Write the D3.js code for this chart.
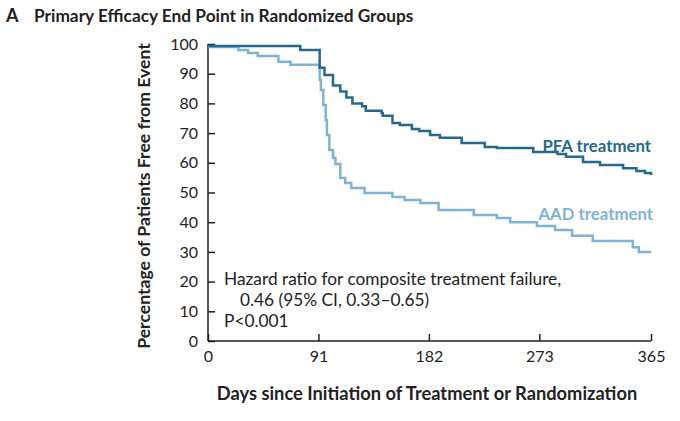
<!DOCTYPE html>
<html><head><meta charset="utf-8">
<script src="https://cdn.jsdelivr.net/npm/d3@7"></script>
<style>body{margin:0;background:#fff;} text{font-family:Lato,"Open Sans",sans-serif;}</style>
</head><body>
<script>
// step points: day, percent free from event
var pfaDays = [0, 76, 92, 96, 103, 109, 114, 119, 127, 130, 143, 144, 152, 158, 168, 174, 183, 191, 191, 209, 228, 238, 268, 288, 295, 309, 323, 342, 353, 360, 365];
var pfaVals = [99.3, 98, 92, 89.6, 86, 84, 82, 80, 79, 77.5, 76.8, 75.8, 73.4, 72.7, 71.4, 70.7, 69.4, 68.4, 68.4, 66.7, 65.3, 65, 63.6, 63, 62, 60.3, 59.3, 58.2, 57.2, 56.6, 55.9];
var aadDays = [0, 25, 33, 41, 58, 68, 92, 93, 95, 97, 98, 100, 103, 105, 109, 113, 118, 129, 152, 162, 175, 190, 219, 238, 249, 271, 276, 286, 300, 317, 350, 355, 365];
var aadVals = [99, 98, 97, 96, 94, 93, 88, 84.5, 79.5, 74.4, 69.4, 64.3, 61.6, 59.6, 54.9, 53.2, 51.5, 49.8, 48.5, 47.5, 46.5, 44.1, 42.4, 41.4, 40, 38.7, 38.7, 37.4, 35.4, 33.7, 31.6, 30, 30];
var xTicks = [0, 91, 182, 273, 365];
var yTicks = [0, 10, 20, 30, 40, 50, 60, 70, 80, 90, 100];

var svg = d3.select('body').append('svg').attr('width', 680).attr('height', 421);
var x = d3.scaleLinear().domain([0, 365]).range([208, 651]);
var y = d3.scaleLinear().domain([0, 100]).range([341, 44]);

svg.append('text').attr('x', 6).attr('y', 22).attr('font-size', 18).attr('font-weight', 'bold').attr('fill', '#222').text('A');
svg.append('text').attr('x', 34).attr('y', 22).attr('font-size', 17.3).attr('font-weight', 'bold').attr('fill', '#222')
  .text('Primary Efficacy End Point in Randomized Groups');

var xa = svg.append('g').attr('transform', 'translate(0,341)')
  .call(d3.axisBottom(x).tickValues(xTicks).tickSize(-7).tickPadding(10));
var ya = svg.append('g').attr('transform', 'translate(208,0)')
  .call(d3.axisLeft(y).tickValues(yTicks).tickSize(7).tickPadding(3));
[xa, ya].forEach(function(a){
  a.select('.domain').attr('stroke', '#222').attr('stroke-width', 1.5);
  a.selectAll('line').attr('stroke', '#222').attr('stroke-width', 1.5);
  a.selectAll('text').attr('font-size', 16).attr('fill', '#222').style('font-family', 'Lato, sans-serif');
});
ya.selectAll('.tick line').attr('x2', 7);
ya.select('.domain').attr('d', 'M0,341V44');
xa.select('.domain').attr('d', 'M208,0H651');

svg.append('text').attr('x', 427).attr('y', 400).attr('text-anchor', 'middle').attr('font-size', 18.3)
  .attr('font-weight', 'bold').attr('fill', '#222').text('Days since Initiation of Treatment or Randomization');
svg.append('text').attr('transform', 'translate(150,196) rotate(-90)').attr('text-anchor', 'middle')
  .attr('font-size', 17.6).attr('font-weight', 'bold').attr('fill', '#222').text('Percentage of Patients Free from Event');

var line = d3.line().curve(d3.curveStepAfter).x(function(d){ return x(d[0]); }).y(function(d){ return y(d[1]); });
svg.append('path').attr('d', line(d3.zip(aadDays, aadVals))).attr('fill', 'none').attr('stroke', '#7fb3d5').attr('stroke-width', 2.5);
svg.append('path').attr('d', line(d3.zip(pfaDays, pfaVals))).attr('fill', 'none').attr('stroke', '#25698f').attr('stroke-width', 2.5);

svg.append('text').attr('x', 651).attr('y', 152).attr('text-anchor', 'end').attr('font-size', 16.8).attr('font-weight', 'bold').attr('fill', '#25698f').text('PFA treatment');
svg.append('text').attr('x', 653).attr('y', 220).attr('text-anchor', 'end').attr('font-size', 16.8).attr('font-weight', 'bold').attr('fill', '#7fb3d5').text('AAD treatment');

var notes = ['Hazard ratio for composite treatment failure,', '0.46 (95% CI, 0.33\u20130.65)', 'P<0.001'];
svg.selectAll('.note').data(notes).enter().append('text').attr('class', 'note')
  .attr('x', function(d, i){ return i == 1 ? 240 : 224; }).attr('y', function(d, i){ return 285 + i * 21; })
  .attr('font-size', 17.3).attr('fill', '#222').text(function(d){ return d; });
</script>
</body></html>
